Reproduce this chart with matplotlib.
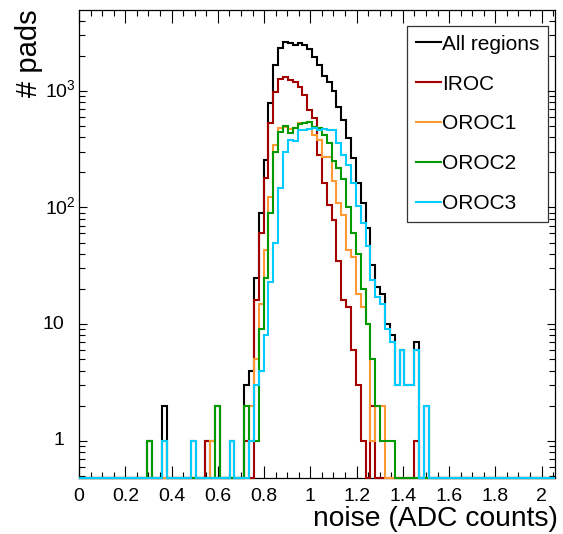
import matplotlib
matplotlib.use("Agg")
import matplotlib.pyplot as plt
import matplotlib.transforms as mtransforms
import numpy as np
from matplotlib.ticker import FixedLocator, FuncFormatter, LogLocator, MultipleLocator, NullFormatter

plt.rcParams["font.family"] = ["Liberation Sans", "DejaVu Sans"]
plt.rcParams["mathtext.fontset"] = "custom"
plt.rcParams["mathtext.rm"] = "Liberation Sans"

# histogram binning: 98 bins of 0.021 ADC counts starting at 0
bin_width = 0.021
n_bins = 98
first_bin = 14  # counts below are for bins 14 .. 75, all other bins are empty

labels = ["All regions", "IROC", "OROC1", "OROC2", "OROC3"]
colors = ["#000000", "#a30000", "#ff9933", "#009900", "#00ccff"]

all_regions = [
    1, 0, 0, 2, 0, 0, 0, 0, 0, 1, 0, 0, 1, 1, 2, 0, 0, 1, 0, 0,
    3, 4, 25, 90, 256, 780, 1670, 2330, 2600, 2560, 2490, 2560, 2450, 2290, 1950, 1670,
    1330, 1200, 990, 720, 560, 392, 265, 162, 109, 67, 32, 21, 18, 10, 8, 3,
    6, 3, 3, 7, 0, 2, 0, 0, 0, 0,
]
iroc = [
    0, 0, 0, 0, 0, 0, 0, 0, 0, 0, 0, 0, 1, 0, 0, 0, 0, 0, 0, 0,
    1, 0, 16, 60, 180, 528, 984, 1257, 1305, 1235, 1195, 1085, 927, 690, 585, 282,
    162, 105, 78, 35, 16, 14, 6, 3, 1, 0, 2, 0, 0, 0, 0, 0,
    0, 0, 0, 1, 0, 0, 0, 0, 0, 0,
]
oroc1 = [
    0, 0, 0, 0, 0, 0, 0, 0, 0, 0, 0, 0, 0, 1, 0, 0, 0, 0, 0, 0,
    0, 2, 5, 15, 43, 123, 343, 480, 493, 470, 480, 528, 528, 545, 418, 380,
    272, 270, 170, 109, 86, 43, 38, 18, 14, 10, 1, 2, 2, 0, 0, 0,
    0, 0, 0, 0, 0, 0, 0, 0, 0, 0,
]
oroc2 = [
    1, 0, 0, 1, 0, 0, 0, 0, 0, 0, 0, 0, 0, 0, 2, 0, 0, 0, 0, 0,
    2, 1, 1, 9, 25, 89, 300, 447, 500, 436, 481, 517, 534, 545, 491, 480,
    420, 360, 250, 220, 175, 100, 60, 40, 20, 10, 5, 2, 1, 1, 1, 0,
    0, 0, 0, 0, 0, 0, 0, 0, 0, 0,
]
oroc3 = [
    0, 0, 0, 1, 0, 0, 0, 0, 0, 1, 0, 0, 0, 0, 0, 0, 0, 1, 0, 0,
    0, 1, 3, 4, 8, 23, 50, 147, 300, 380, 370, 462, 462, 470, 480, 460,
    470, 460, 462, 356, 282, 232, 162, 102, 73, 47, 24, 17, 15, 9, 7, 3,
    6, 3, 3, 6, 0, 2, 0, 0, 0, 0,
]

y_ticks = [1, 10, 100, 1000]
y_tick_labels = ["1", "10", r"$10^{2}$", r"$10^{3}$"]

y_low, y_high = 0.48, 4930

edges = np.arange(n_bins + 1) * bin_width

fig = plt.figure(figsize=(5.63, 5.34), dpi=100)
ax = fig.add_axes([79.1 / 563, 1 - 478 / 534, (555 - 79.1) / 563, (478 - 10) / 534])

for series, label, color in zip([all_regions, iroc, oroc1, oroc2, oroc3], labels, colors):
    counts = np.zeros(n_bins)
    counts[first_bin:first_bin + len(series)] = series
    # empty bins are drawn on the lower frame edge, like ROOT does on a log axis
    counts = np.where(counts > 0, counts, y_low)
    ax.stairs(counts, edges, baseline=None, color=color, lw=1.5, label=label, clip_on=False, zorder=3)

ax.set_xlim(edges[0], edges[-1])
ax.set_yscale("log")
ax.set_ylim(y_low, y_high)

ax.xaxis.set_major_locator(MultipleLocator(0.2))
ax.xaxis.set_minor_locator(MultipleLocator(0.05))
ax.xaxis.set_major_formatter(FuncFormatter(lambda v, p: f"{v:g}"))

ax.yaxis.set_major_locator(FixedLocator(y_ticks))
ax.yaxis.set_minor_locator(LogLocator(base=10, subs=np.arange(2, 10)))
ax.yaxis.set_major_formatter(NullFormatter())
ax.yaxis.set_minor_formatter(NullFormatter())

# y labels written by hand so the exponent hangs right of the "10", ROOT style
ylab_trans = mtransforms.blended_transform_factory(ax.transAxes, ax.transData)
for value, text in zip(y_ticks, y_tick_labels):
    if text.startswith("$"):
        ax.text(-34.6 / 476, value, text, transform=ylab_trans, ha="left", va="center", fontsize=14)
    else:
        ax.text(-14.5 / 476, value, text, transform=ylab_trans, ha="right", va="center", fontsize=14)

ax.tick_params(which="both", direction="in", top=True, right=True, width=0.8, colors="black")
ax.tick_params(axis="x", which="major", length=9, labelsize=14, pad=7)
ax.tick_params(axis="x", which="minor", length=4.5)
ax.tick_params(axis="y", which="major", length=5.5)
ax.tick_params(axis="y", which="minor", length=4)
for spine in ax.spines.values():
    spine.set_linewidth(0.9)

fig.text(558 / 563, 1 - 519 / 534, "noise (ADC counts)", ha="right", va="center", fontsize=20.3)
fig.text(29 / 563, 1 - 9 / 534, "# pads", ha="center", va="top", rotation=90, fontsize=21)

leg = ax.legend(
    loc="upper left",
    bbox_to_anchor=((407.3 - 79.1) / (555 - 79.1), (478 - 26) / 468),
    fontsize=15,
    frameon=True,
    fancybox=False,
    edgecolor="black",
    handlelength=1.2,
    handletextpad=0.05,
    labelspacing=1.0,
    borderpad=0.42,
    borderaxespad=0,
)
leg.get_frame().set_linewidth(0.9)
leg.set_zorder(5)

fig.savefig("out.png", dpi=100)
